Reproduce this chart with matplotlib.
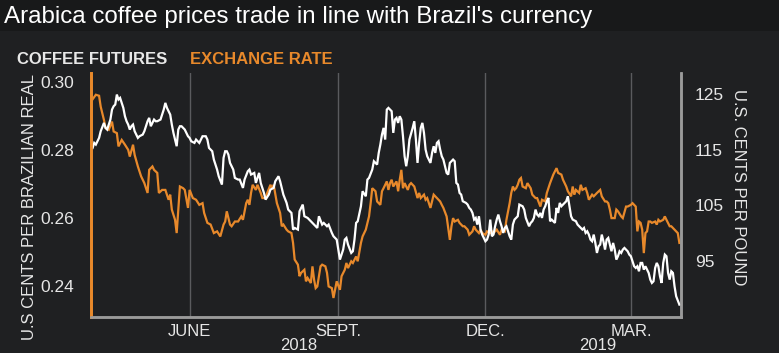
import matplotlib
matplotlib.use("Agg")
import matplotlib.pyplot as plt
import pandas as pd

plt.rcParams['font.family'] = ['Liberation Sans', 'DejaVu Sans']

# ---- data (days counted from 2018-04-01) ----
start = pd.Timestamp('2018-04-01')

fx_days = [0, 3, 5, 6, 8, 9, 11, 13, 14, 16, 17, 19, 21, 23, 24, 26, 27, 29, 31, 33,
           35, 36, 38, 39, 41, 42, 44, 46, 48, 49, 50, 52, 53, 55, 57, 58, 60, 61, 63, 65,
           67, 69, 70, 72, 74, 76, 78, 80, 82, 83, 84, 86, 87, 89, 91, 93, 94, 96, 97, 98,
           99, 100, 102, 103, 105, 106, 108, 109, 111, 112, 113, 115, 117, 118, 119, 121, 122, 124, 125, 126,
           128, 129, 130, 132, 133, 134, 136, 137, 138, 139, 140, 142, 143, 145, 146, 147, 149, 150, 152, 154,
           155, 157, 158, 159, 161, 162, 164, 165, 167, 168, 170, 172, 173, 174, 176, 177, 179, 180, 181, 183,
           184, 185, 186, 187, 189, 190, 191, 192, 193, 194, 196, 197, 198, 200, 202, 203, 204, 206, 207, 208,
           210, 211, 212, 214, 216, 217, 218, 220, 222, 223, 224, 225, 227, 228, 230, 231, 233, 234, 236, 237,
           238, 240, 241, 242, 244, 245, 247, 248, 249, 251, 253, 254, 256, 257, 259, 260, 261, 262, 263, 264,
           265, 266, 267, 269, 270, 272, 273, 275, 276, 278, 279, 281, 282, 284, 286, 288, 289, 291, 292, 294,
           295, 297, 298, 299, 300, 302, 303, 304, 306, 307, 308, 310, 311, 313, 315, 316, 318, 319, 320, 321,
           322, 324, 325, 326, 328, 329, 331, 332, 334, 335, 337, 338, 339, 340, 341, 342, 343, 344, 345, 346,
           347, 349, 350, 351, 352, 354, 355, 356, 358, 359, 361, 363, 364]
fx_rate = [0.2942, 0.2962, 0.2959, 0.2927, 0.2888, 0.2864, 0.2859, 0.2883, 0.2854, 0.2849,
           0.2810, 0.2829, 0.2815, 0.2800, 0.2780, 0.2815, 0.2785, 0.2751, 0.2722, 0.2702,
           0.2673, 0.2741, 0.2751, 0.2741, 0.2732, 0.2673, 0.2682, 0.2682, 0.2653, 0.2668,
           0.2624, 0.2594, 0.2555, 0.2692, 0.2687, 0.2682, 0.2629, 0.2682, 0.2658, 0.2653,
           0.2638, 0.2643, 0.2614, 0.2585, 0.2580, 0.2555, 0.2560, 0.2545, 0.2580, 0.2589,
           0.2619, 0.2580, 0.2575, 0.2589, 0.2589, 0.2604, 0.2594, 0.2643, 0.2653, 0.2638,
           0.2673, 0.2697, 0.2682, 0.2697, 0.2673, 0.2658, 0.2658, 0.2673, 0.2697, 0.2687,
           0.2697, 0.2643, 0.2614, 0.2575, 0.2580, 0.2565, 0.2560, 0.2555, 0.2526, 0.2477,
           0.2462, 0.2428, 0.2438, 0.2447, 0.2413, 0.2423, 0.2408, 0.2457, 0.2418, 0.2393,
           0.2398, 0.2457, 0.2462, 0.2457, 0.2438, 0.2398, 0.2393, 0.2364, 0.2413, 0.2388,
           0.2428, 0.2447, 0.2467, 0.2452, 0.2472, 0.2467, 0.2486, 0.2472, 0.2526, 0.2545,
           0.2565, 0.2604, 0.2643, 0.2687, 0.2678, 0.2648, 0.2638, 0.2678, 0.2687, 0.2707,
           0.2682, 0.2702, 0.2712, 0.2692, 0.2707, 0.2678, 0.2712, 0.2741, 0.2687, 0.2702,
           0.2682, 0.2697, 0.2702, 0.2692, 0.2658, 0.2673, 0.2658, 0.2668, 0.2653, 0.2658,
           0.2629, 0.2648, 0.2668, 0.2658, 0.2648, 0.2638, 0.2629, 0.2604, 0.2535, 0.2575,
           0.2599, 0.2589, 0.2594, 0.2585, 0.2575, 0.2575, 0.2565, 0.2550, 0.2560, 0.2575,
           0.2565, 0.2555, 0.2565, 0.2555, 0.2550, 0.2560, 0.2555, 0.2560, 0.2555, 0.2565,
           0.2550, 0.2565, 0.2560, 0.2594, 0.2643, 0.2673, 0.2692, 0.2682, 0.2687, 0.2697,
           0.2712, 0.2717, 0.2692, 0.2687, 0.2702, 0.2687, 0.2668, 0.2658, 0.2658, 0.2633,
           0.2653, 0.2648, 0.2673, 0.2702, 0.2727, 0.2746, 0.2732, 0.2727, 0.2712, 0.2692,
           0.2678, 0.2663, 0.2692, 0.2668, 0.2682, 0.2673, 0.2697, 0.2682, 0.2687, 0.2673,
           0.2653, 0.2668, 0.2663, 0.2673, 0.2682, 0.2663, 0.2648, 0.2648, 0.2643, 0.2624,
           0.2599, 0.2599, 0.2624, 0.2619, 0.2604, 0.2599, 0.2633, 0.2633, 0.2638, 0.2643,
           0.2633, 0.2560, 0.2589, 0.2585, 0.2565, 0.2496, 0.2555, 0.2560, 0.2589, 0.2589,
           0.2585, 0.2589, 0.2580, 0.2594, 0.2589, 0.2594, 0.2604, 0.2594, 0.2575, 0.2575,
           0.2565, 0.2555, 0.2526]

coffee_days = [1, 2, 3, 5, 6, 8, 9, 10, 12, 13, 14, 15, 16, 17, 18, 19, 20, 21, 22, 23,
               24, 25, 26, 27, 29, 30, 32, 33, 35, 36, 37, 39, 40, 41, 43, 45, 46, 47, 49, 50,
               51, 53, 54, 55, 56, 58, 60, 61, 62, 64, 65, 67, 68, 69, 71, 72, 73, 75, 76, 78,
               79, 81, 82, 83, 84, 85, 86, 88, 89, 91, 92, 94, 95, 97, 98, 99, 101, 102, 104, 105,
               107, 108, 110, 111, 113, 114, 116, 117, 119, 121, 122, 124, 125, 126, 128, 129, 131, 132, 134, 136,
               137, 139, 140, 141, 143, 144, 146, 147, 149, 150, 152, 153, 154, 155, 156, 157, 158, 159, 161, 162,
               163, 164, 165, 167, 168, 170, 171, 172, 174, 175, 177, 178, 179, 180, 181, 182, 183, 184, 185, 186,
               187, 188, 189, 190, 191, 192, 193, 194, 195, 196, 197, 199, 200, 201, 202, 203, 204, 205, 206, 207,
               208, 209, 210, 211, 212, 213, 214, 215, 216, 217, 218, 219, 220, 221, 222, 223, 224, 225, 226, 227,
               228, 229, 230, 232, 233, 234, 235, 236, 237, 238, 239, 240, 241, 242, 243, 244, 245, 246, 247, 248,
               249, 250, 251, 252, 253, 254, 255, 256, 257, 258, 259, 260, 261, 262, 264, 265, 267, 268, 269, 271,
               272, 273, 274, 275, 276, 277, 278, 279, 280, 281, 282, 283, 284, 285, 286, 287, 288, 289, 290, 291,
               292, 293, 294, 295, 296, 297, 298, 300, 301, 302, 303, 304, 305, 306, 307, 308, 309, 310, 311, 312,
               313, 314, 315, 316, 317, 318, 319, 320, 321, 322, 323, 324, 325, 326, 327, 328, 329, 330, 332, 333,
               334, 335, 336, 337, 338, 339, 340, 341, 342, 343, 344, 345, 346, 347, 348, 349, 350, 351, 352, 353,
               354, 355, 356, 357, 358, 359, 360, 361, 362, 364]
coffee_price = [115.3, 116.2, 115.9, 117.1, 118.3, 119.8, 118.9, 118.6, 120.4, 122.2,
                122.8, 123.1, 124.9, 124.0, 124.3, 123.4, 122.5, 121.0, 120.1, 119.5,
                118.6, 119.2, 119.5, 118.3, 117.1, 117.4, 117.7, 118.3, 120.1, 120.7,
                119.2, 120.4, 120.1, 120.1, 120.4, 122.2, 123.4, 122.5, 121.3, 119.5,
                118.0, 115.6, 118.6, 119.2, 119.2, 118.6, 117.4, 117.1, 116.5, 116.2,
                116.8, 116.2, 116.8, 117.4, 117.4, 116.8, 115.3, 114.7, 113.2, 111.4,
                110.2, 108.7, 113.5, 114.7, 114.7, 114.1, 112.6, 111.4, 109.9, 109.6,
                109.6, 108.1, 109.6, 111.1, 111.4, 110.5, 110.8, 109.0, 110.8, 109.0,
                107.2, 106.0, 106.9, 107.8, 108.1, 109.3, 110.2, 109.3, 106.9, 105.4,
                104.2, 103.6, 100.6, 100.9, 100.6, 103.9, 105.1, 103.0, 102.7, 102.1,
                101.8, 101.2, 100.9, 103.0, 101.5, 101.8, 101.2, 101.5, 100.0, 99.4,
                98.8, 97.0, 95.2, 96.1, 97.0, 98.8, 99.1, 97.9, 96.4, 96.7,
                98.8, 101.8, 102.1, 104.8, 107.5, 106.6, 109.6, 109.9, 111.4, 112.9,
                112.3, 114.4, 115.9, 117.7, 118.9, 116.8, 122.2, 122.5, 122.2, 121.9,
                118.0, 120.4, 120.7, 119.8, 121.0, 120.4, 117.4, 113.8, 112.0, 113.8,
                116.8, 118.9, 120.1, 116.8, 112.6, 116.2, 118.9, 119.8, 118.0, 115.0,
                113.8, 113.2, 112.6, 114.4, 115.6, 114.4, 116.2, 116.5, 115.0, 113.8,
                113.2, 112.0, 110.8, 110.5, 112.6, 112.9, 113.2, 112.9, 109.0, 108.7,
                107.2, 106.9, 105.7, 105.4, 105.1, 104.5, 104.2, 103.6, 102.4, 102.7,
                101.5, 103.0, 100.6, 99.7, 99.1, 98.5, 98.8, 99.7, 102.4, 99.4,
                99.7, 101.2, 102.4, 103.3, 102.1, 101.2, 100.0, 100.9, 101.2, 100.3,
                99.4, 98.8, 101.5, 102.4, 103.0, 105.1, 104.8, 104.2, 102.7, 101.2,
                101.8, 102.1, 102.7, 104.2, 103.3, 103.0, 103.6, 102.7, 104.2, 104.8,
                105.7, 106.3, 102.1, 102.4, 102.1, 101.8, 104.5, 103.6, 105.4, 104.8,
                105.1, 105.4, 105.7, 106.6, 104.8, 103.0, 102.4, 102.1, 101.5, 101.2,
                100.9, 100.6, 100.9, 100.0, 100.3, 99.7, 98.8, 98.5, 99.7, 98.2,
                96.4, 97.6, 97.9, 99.7, 98.5, 97.0, 98.8, 99.1, 97.9, 96.7,
                98.2, 97.0, 95.2, 95.8, 96.7, 96.4, 97.0, 97.3, 96.7, 96.1,
                95.8, 94.9, 94.0, 93.7, 94.0, 93.1, 94.6, 94.6, 93.4, 94.0,
                93.4, 92.8, 91.6, 91.0, 91.3, 93.7, 94.6, 94.0, 92.2, 91.0,
                94.6, 96.1, 95.8, 92.8, 91.6, 93.1, 92.8, 90.4, 88.6, 87.1]

month_ticks = ['2018-06-01', '2018-09-01', '2018-12-01', '2019-03-01']
month_labels = ['JUNE', 'SEPT.', 'DEC.', 'MAR.']
left_ticks = [0.24, 0.26, 0.28, 0.30]
right_ticks = [95, 105, 115, 125]

orange = '#e8892b'
bg = '#1f2022'
txt = '#e6e6e6'

fx_dates = [start + pd.Timedelta(days=d) for d in fx_days]
coffee_dates = [start + pd.Timedelta(days=d) for d in coffee_days]

fig = plt.figure(figsize=(7.79, 3.53), dpi=100)
fig.patch.set_facecolor(bg)
# darker title strip
fig.patches.append(plt.Rectangle((0, 0.912), 1, 0.088, transform=fig.transFigure,
                                 facecolor='#18191a', edgecolor='none', zorder=0))

ax = fig.add_axes([91/779, 1 - 317/353, 590/779, 244/353])
ax.set_facecolor(bg)
ax2 = ax.twinx()

ax.plot(fx_dates, fx_rate, color=orange, lw=1.6, solid_joinstyle='miter')
ax2.plot(coffee_dates, coffee_price, color='white', lw=1.6, solid_joinstyle='miter')

ax.set_xlim(pd.Timestamp('2018-04-01'), pd.Timestamp('2019-04-01'))
ax.set_ylim(0.2308, 0.3026)
ax2.set_ylim(84.87, 128.78)

ax.set_xticks([pd.Timestamp(t) for t in month_ticks])
ax.set_xticklabels(month_labels)
ax.set_yticks(left_ticks)
ax.set_yticklabels(['%.2f' % v for v in left_ticks])
ax2.set_yticks(right_ticks)
ax2.set_yticklabels([str(v) for v in right_ticks])

ax.grid(axis='x', color='#5a5b5e', lw=1)
ax.tick_params(axis='x', length=0, pad=5, labelsize=12, colors=txt)
ax.tick_params(axis='y', length=0, pad=12, labelsize=12.5, colors=txt)
ax2.tick_params(axis='y', length=0, pad=10, labelsize=12.5, colors=txt)

for a in (ax, ax2):
    a.spines['top'].set_visible(False)
    a.spines['bottom'].set_color('#9a9a9a')
    a.spines['bottom'].set_linewidth(1.8)
    a.spines['right'].set_color('#9a9a9a')
    a.spines['right'].set_linewidth(1.8)
    a.spines['left'].set_color(orange)
    a.spines['left'].set_linewidth(2)

fig.text(299/779, 1 - 345/353, '2018', ha='center', va='center', fontsize=12, color=txt)
fig.text(598/779, 1 - 345/353, '2019', ha='center', va='center', fontsize=12, color=txt)

fig.text(30/779, 1 - 207/353, 'U.S CENTS PER BRAZILIAN REAL', rotation=90,
         ha='center', va='center', fontsize=12, color=txt)
fig.text(738/779, 1 - 187/353, 'U.S. CENTS PER POUND', rotation=270,
         ha='center', va='center', fontsize=12, color=txt)

fig.text(4/779, 1 - 17/353, "Arabica coffee prices trade in line with Brazil's currency",
         ha='left', va='center', fontsize=17.4, color='white')
fig.text(17/779, 1 - 59/353, 'COFFEE FUTURES', ha='left', va='center',
         fontsize=12, fontweight='bold', color='#e8e8e8')
fig.text(190/779, 1 - 59/353, 'EXCHANGE RATE', ha='left', va='center',
         fontsize=12, fontweight='bold', color=orange)

fig.savefig('out.png', dpi=100, facecolor=fig.get_facecolor())
